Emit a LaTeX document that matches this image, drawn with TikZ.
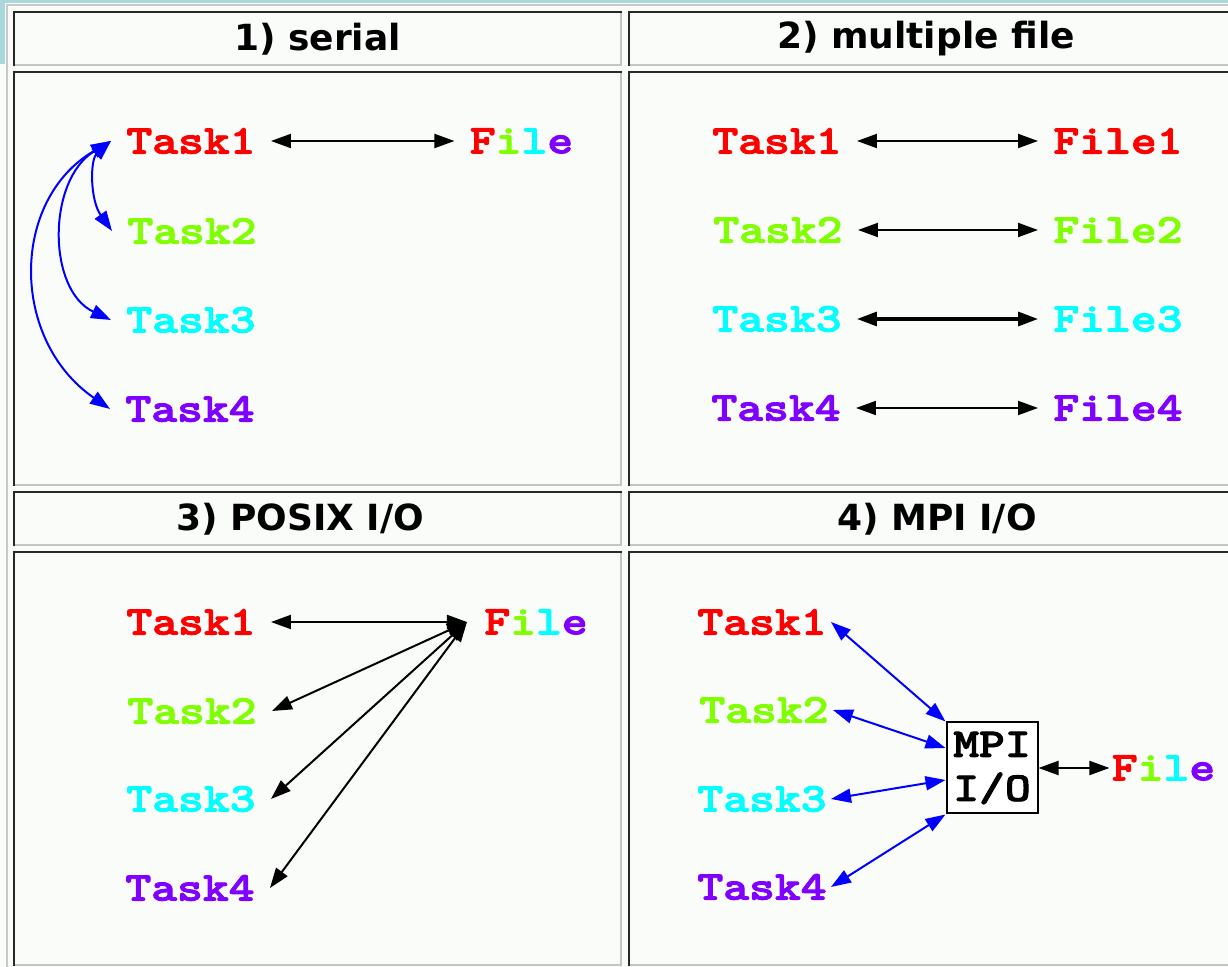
\documentclass[tikz,border=0pt]{standalone}
\usepackage{fontspec}
\setmainfont{DejaVu Sans}
\newfontfamily\hdrfont{DejaVu Sans}
\newfontfamily\courb{lmmonolt10-bold.otf}[FakeBold=2]
\usetikzlibrary{arrows.meta}
\definecolor{pagebg}{RGB}{250,252,250}
\definecolor{tealbg}{RGB}{168,216,220}
\definecolor{cdark}{RGB}{40,40,40}
\definecolor{clight}{RGB}{196,196,196}
\definecolor{couter}{RGB}{200,200,200}
\definecolor{tred}{RGB}{255,0,0}
\definecolor{tgreen}{RGB}{128,255,0}
\definecolor{tcyan}{RGB}{0,255,255}
\definecolor{tpurple}{RGB}{128,0,255}
\definecolor{tblue}{RGB}{0,0,255}
\newcommand\wide[1]{\scalebox{1.2}[1]{#1}}
\newcommand\filetext{\wide{{\color{tred}F}{\color{tgreen}i}{\color{tcyan}l}{\color{tpurple}e}}}
\newcommand\tcell[4]{%
  \fill[pagebg] (#1,#2) rectangle (#3,#4);
  \draw[clight,line width=1pt] (#1,#4-1) -- (#3-1,#4-1) -- (#3-1,#2);
  \draw[cdark,line width=1pt] (#1+1,#4) -- (#1+1,#2+1) -- (#3,#2+1);
}
\tikzset{
  task/.style={font=\courb\fontsize{20.5}{22}\selectfont, inner sep=0pt, inner xsep=7.5pt},
  hdr/.style={font=\hdrfont\bfseries\fontsize{18}{20}\selectfont, inner sep=0pt},
  bi/.style={{Triangle[length=10pt,width=7pt]}-{Triangle[length=10pt,width=7pt]}, line width=1pt, black},
  bluebi/.style={bi, tblue},
  mpibox/.style={draw=black, line width=1pt, fill=white, minimum width=45.5pt, minimum height=45.5pt, inner sep=0pt, align=center, font=\courb\fontsize{20.5}{22}\selectfont}
}
\begin{document}
\begin{tikzpicture}[x=0.5pt,y=-0.5pt]
\useasboundingbox (0,0) rectangle (1228,967);
\clip (0,0) rectangle (1228,967);
\fill[pagebg] (0,0) rectangle (1228,967);
\fill[tealbg] (0,0) rectangle (1228,3.5);
\fill[tealbg] (0,0) rectangle (5,64);
\draw[couter,line width=1pt] (7,967) -- (7,5) -- (1230,5);
% cells
\tcell{13}{11}{622}{66}
\tcell{628}{11}{1234}{66}
\tcell{13}{71}{622}{486}
\tcell{628}{71}{1234}{486}
\tcell{13}{491}{622}{546}
\tcell{628}{491}{1234}{546}
\tcell{13}{551}{622}{966}
\tcell{628}{551}{1234}{966}
% headers
\node[hdr] (h1) at (317.5,39) {1) serial};
\node[hdr] (h2) at (926,39) {2) multiple file};
\node[hdr] (h3) at (300,519) {3) POSIX I/O};
\node[hdr] (h4) at (937,519) {4) MPI I/O};
% panel 1
\node[task,text=tred] (a1) at (191,141) {\wide{Task1}};
\node[task,text=tgreen] (a2) at (192,231) {\wide{Task2}};
\node[task,text=tcyan] (a3) at (191,320) {\wide{Task3}};
\node[task,text=tpurple] (a4) at (190,409) {\wide{Task4}};
\node[task] (af) at (521.5,141) {\filetext};
\draw[bi] (a1.east) -- (af.west);
\draw[bluebi] (a1.west) .. controls (90,160) and (90,200) .. (a2.west);
\draw[bluebi] (a1.west) .. controls (47,180) and (47,290) .. (a3.west);
\draw[bluebi] (a1.west) .. controls (10,200) and (10,340) .. (a4.west);
% panel 2
\node[task,text=tred] (b1) at (777,141) {\wide{Task1}};
\node[task,text=tgreen] (b2) at (778,230) {\wide{Task2}};
\node[task,text=tcyan] (b3) at (777,319) {\wide{Task3}};
\node[task,text=tpurple] (b4) at (776,408) {\wide{Task4}};
\node[task,text=tred] (bf1) at (1118,141) {\wide{File1}};
\node[task,text=tgreen] (bf2) at (1118,230) {\wide{File2}};
\node[task,text=tcyan] (bf3) at (1118,319) {\wide{File3}};
\node[task,text=tpurple] (bf4) at (1118,408) {\wide{File4}};
\draw[bi] (b1.east) -- (bf1.west);
\draw[bi] (b2.east) -- (bf2.west);
\draw[bi,line width=1.6pt] (b3.east) -- (bf3.west);
\draw[bi] (b4.east) -- (bf4.west);
% panel 3
\node[task,text=tred] (c1) at (191,622) {\wide{Task1}};
\node[task,text=tgreen] (c2) at (192,711) {\wide{Task2}};
\node[task,text=tcyan] (c3) at (191,799) {\wide{Task3}};
\node[task,text=tpurple] (c4) at (190,888) {\wide{Task4}};
\node[task,inner xsep=8.5pt] (cf) at (536,622) {\filetext};
\draw[bi] (c1.east) -- (cf.west);
\draw[bi] (cf.west) -- (c2.east);
\draw[bi] (cf.west) -- (c3.east);
\draw[bi] (cf.west) -- (c4.east);
% panel 4
\node[task,inner xsep=2pt,text=tred] (d1) at (762,622) {\wide{Task1}};
\node[task,inner xsep=2pt,text=tgreen] (d2) at (764,710) {\wide{Task2}};
\node[task,inner xsep=2pt,text=tcyan] (d3) at (762,799) {\wide{Task3}};
\node[task,inner xsep=2pt,text=tpurple] (d4) at (762,887) {\wide{Task4}};
\node[mpibox] (dbox) at (992,768) {\wide{MPI}\\\wide{I/O}};
\node[task,inner xsep=1pt] (df) at (1163.5,768) {\filetext};
\draw[bluebi] (d1.east) -- (dbox.north west);
\draw[bluebi] (d2.east) -- ([yshift=10pt]dbox.west);
\draw[bluebi] (d3.east) -- ([yshift=-6pt]dbox.west);
\draw[bluebi] (d4.east) -- (dbox.south west);
\draw[bi] (dbox.east) -- (df.west);
\end{tikzpicture}
\end{document}
